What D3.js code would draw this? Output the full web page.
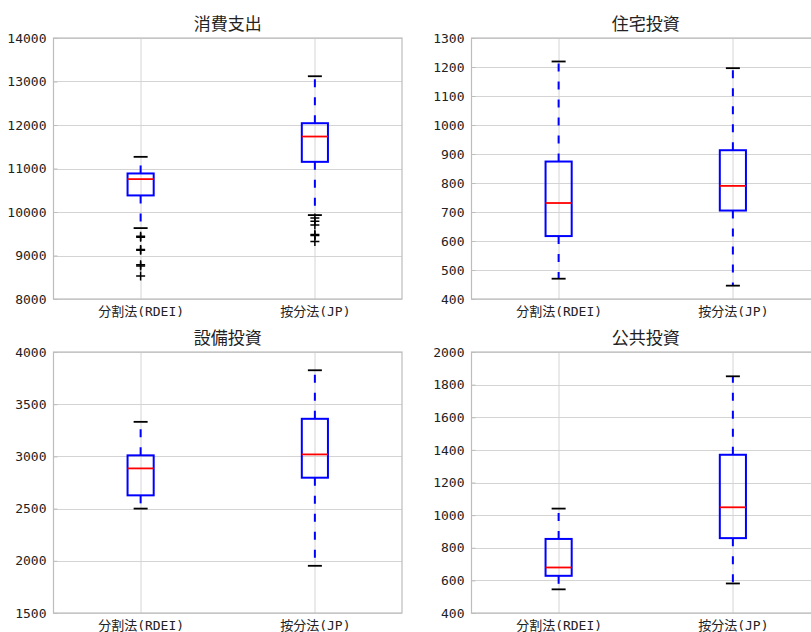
<!DOCTYPE html>
<html>
<head>
<meta charset="utf-8">
<script src="https://cdn.jsdelivr.net/npm/d3@7"></script>
<style>
  html, body { margin: 0; padding: 0; background: #ffffff; }
  svg { display: block; }
  text { font-family: "Noto Sans CJK JP", "Noto Sans", sans-serif; fill: #222; }
</style>
</head>
<body>
<svg id="chart" width="811" height="632"></svg>
<script>
// Two estimation methods compared in every panel
const categories = ["分割法(RDEI)", "按分法(JP)"];
const titles = ["消費支出", "住宅投資", "設備投資", "公共投資"];

// Box statistics per panel: [method RDEI, method JP]
const whiskerLow  = [[9630, 9929], [470, 446], [2500, 1952], [545, 581]];
const q1          = [[10381, 11153], [617, 705], [2627, 2796], [628, 859]];
const median      = [[10756, 11735], [731, 790], [2885, 3019], [679, 1048]];
const q3          = [[10886, 12041], [874, 913], [3010, 3360], [854, 1370]];
const whiskerHigh = [[11268, 13121], [1219, 1196], [3331, 3825], [1040, 1851]];
const outliers    = [
  [[9440, 9420, 9140, 9120, 8790, 8760, 8530], [9860, 9790, 9700, 9480, 9460, 9320]],
  [[], []],
  [[], []],
  [[], []]
];

// Y tick labels per panel
const yTicks = [
  [8000, 9000, 10000, 11000, 12000, 13000, 14000],
  [400, 500, 600, 700, 800, 900, 1000, 1100, 1200, 1300],
  [1500, 2000, 2500, 3000, 3500, 4000],
  [400, 600, 800, 1000, 1200, 1400, 1600, 1800, 2000]
];

// Plot areas in a 2x2 grid
const frames = [
  { left: 53.5, right: 402, top: 38, bottom: 299 },
  { left: 471.5, right: 820, top: 38, bottom: 299 },
  { left: 53.5, right: 402, top: 352, bottom: 613 },
  { left: 471.5, right: 820, top: 352, bottom: 613 }
];

const svg = d3.select("#chart");
const gridColor = "#d4d4d4";
const spineColor = "#bdbdbd";
const tickFont = '"DejaVu Sans Mono", "Noto Sans CJK JP", monospace';

titles.forEach((title, p) => {
  const f = frames[p];
  const w = f.right - f.left, h = f.bottom - f.top;
  const ticks = yTicks[p];
  const y = d3.scaleLinear().domain([ticks[0], ticks[ticks.length - 1]]).range([h, 0]);
  const x = d3.scalePoint().domain(categories).range([0, w]).padding(0.5);
  const boxW = x.step() * 0.15;
  const capW = 14;

  const g = svg.append("g").attr("transform", `translate(${f.left},${f.top})`);

  // grid lines
  g.append("g").selectAll("line.hg").data(ticks).join("line")
    .attr("x1", 0).attr("x2", w)
    .attr("y1", d => Math.round(y(d)) + 0.5).attr("y2", d => Math.round(y(d)) + 0.5)
    .attr("stroke", gridColor).attr("stroke-width", 1);
  g.append("g").selectAll("line.vg").data(categories).join("line")
    .attr("x1", d => Math.round(x(d)) + 0.5).attr("x2", d => Math.round(x(d)) + 0.5)
    .attr("y1", 0).attr("y2", h)
    .attr("stroke", gridColor).attr("stroke-width", 1);

  // frame
  g.append("rect").attr("x", 0).attr("y", 0).attr("width", w).attr("height", h)
    .attr("fill", "none").attr("stroke", spineColor).attr("stroke-width", 1.2);

  // y axis with inward ticks
  const yAxis = d3.axisLeft(y).tickValues(ticks).tickSize(-4).tickPadding(7).tickFormat(d3.format("d"));
  const ya = g.append("g").call(yAxis);
  ya.select(".domain").remove();
  ya.selectAll(".tick line").attr("stroke", spineColor);
  ya.selectAll(".tick text").attr("font-size", 13).attr("fill", "#222")
    .style("font-family", tickFont);

  // x axis labels
  const xAxis = d3.axisBottom(x).tickSize(0).tickPadding(8);
  const xa = g.append("g").attr("transform", `translate(0,${h})`).call(xAxis);
  xa.select(".domain").remove();
  xa.selectAll(".tick text").attr("font-size", 13).attr("fill", "#222")
    .style("font-family", tickFont);

  // title
  g.append("text").attr("x", w / 2).attr("y", -8).attr("text-anchor", "middle")
    .attr("font-size", 17).attr("fill", "#222").text(title);

  // boxes
  categories.forEach((c, i) => {
    const cx = x(c);
    const b = g.append("g");
    // whiskers
    b.append("line").attr("x1", cx).attr("x2", cx)
      .attr("y1", y(q3[p][i])).attr("y2", y(whiskerHigh[p][i]))
      .attr("stroke", "#0000ff").attr("stroke-width", 2).attr("stroke-dasharray", "8,10");
    b.append("line").attr("x1", cx).attr("x2", cx)
      .attr("y1", y(q1[p][i])).attr("y2", y(whiskerLow[p][i]))
      .attr("stroke", "#0000ff").attr("stroke-width", 2).attr("stroke-dasharray", "8,10");
    // caps
    [whiskerLow[p][i], whiskerHigh[p][i]].forEach(v => {
      b.append("line").attr("x1", cx - capW / 2).attr("x2", cx + capW / 2)
        .attr("y1", y(v)).attr("y2", y(v))
        .attr("stroke", "#000").attr("stroke-width", 1.8);
    });
    // box
    b.append("rect").attr("x", cx - boxW / 2).attr("width", boxW)
      .attr("y", y(q3[p][i])).attr("height", y(q1[p][i]) - y(q3[p][i]))
      .attr("fill", "none").attr("stroke", "#0000ff").attr("stroke-width", 2);
    // median
    b.append("line").attr("x1", cx - boxW / 2).attr("x2", cx + boxW / 2)
      .attr("y1", y(median[p][i])).attr("y2", y(median[p][i]))
      .attr("stroke", "#ff0000").attr("stroke-width", 1.8);
    // outliers as "+" markers
    const ms = 4.5;
    b.selectAll("path.fl").data(outliers[p][i]).join("path")
      .attr("d", v => `M${cx - ms},${y(v)}H${cx + ms}M${cx},${y(v) - ms}V${y(v) + ms}`)
      .attr("stroke", "#000").attr("stroke-width", 1.5).attr("fill", "none");
  });
});
</script>
</body>
</html>
